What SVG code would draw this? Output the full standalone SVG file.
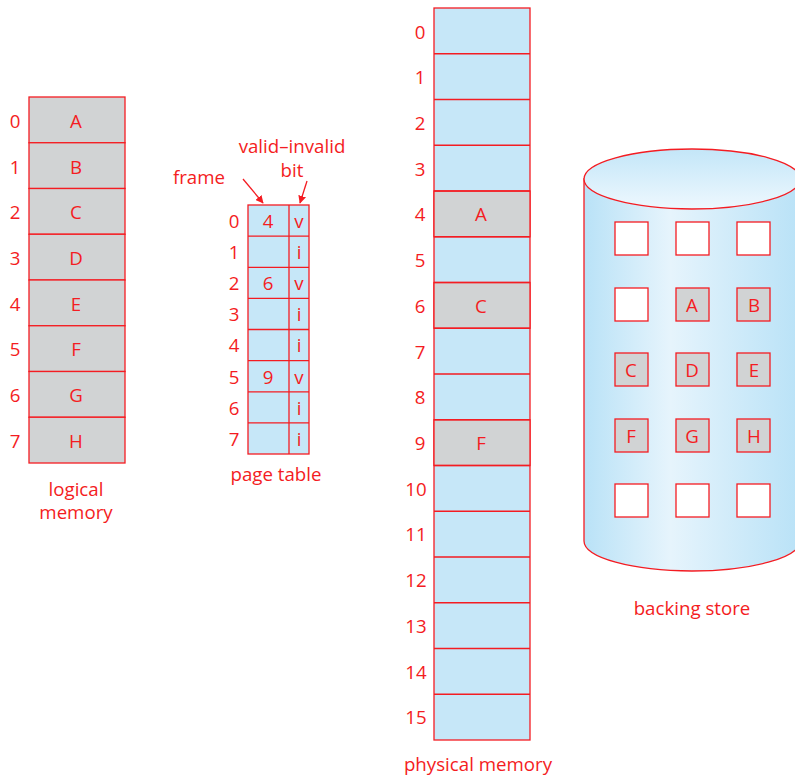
<svg xmlns="http://www.w3.org/2000/svg" width="795" height="775" viewBox="0 0 795 775">
<style>
text{font-family:"Open Sans","Noto Sans","Liberation Sans",sans-serif;font-size:18.7px;fill:#f41c22;text-anchor:middle;dominant-baseline:central}
.g{fill:#d1d3d4;stroke:#f41c22;stroke-width:1.3}
.b{fill:#c6e7f8;stroke:#f41c22;stroke-width:1.3}
.w{fill:#ffffff;stroke:#f41c22;stroke-width:1.3}
.ln{stroke:#f41c22;stroke-width:1.3;fill:none}
</style>
<defs>
<linearGradient id="side" x1="0" y1="0" x2="1" y2="0">
<stop offset="0" stop-color="#b9e2f7"/><stop offset="0.4" stop-color="#e6f4fc"/><stop offset="1" stop-color="#b9e2f7"/>
</linearGradient>
<linearGradient id="top" x1="0" y1="0" x2="0" y2="1">
<stop offset="0" stop-color="#c3e6f8"/><stop offset="1" stop-color="#eef8fe"/>
</linearGradient>
<marker id="ah" viewBox="0 0 10 10" refX="9" refY="5" markerWidth="8" markerHeight="8" orient="auto" markerUnits="userSpaceOnUse">
<path d="M0,0 L10,5 L0,10 z" fill="#f41c22"/>
</marker>
</defs>

<g id="logical-memory">
<rect class="g" x="29" y="97" width="96" height="45.75"/>
<rect class="g" x="29" y="142.75" width="96" height="45.75"/>
<rect class="g" x="29" y="188.5" width="96" height="45.75"/>
<rect class="g" x="29" y="234.25" width="96" height="45.75"/>
<rect class="g" x="29" y="280" width="96" height="45.75"/>
<rect class="g" x="29" y="325.75" width="96" height="45.75"/>
<rect class="g" x="29" y="371.5" width="96" height="45.75"/>
<rect class="g" x="29" y="417.25" width="96" height="45.75"/>
<text x="76" y="120">A</text><text x="76" y="166">B</text><text x="76" y="211">C</text><text x="76" y="257">D</text>
<text x="76" y="303">E</text><text x="76" y="348">F</text><text x="76" y="394">G</text><text x="76" y="440">H</text>
<text x="15" y="120">0</text><text x="15" y="166">1</text><text x="15" y="211">2</text><text x="15" y="257">3</text>
<text x="15" y="303">4</text><text x="15" y="348">5</text><text x="15" y="394">6</text><text x="15" y="440">7</text>
<text x="76" y="488"><tspan x="76" y="488">logical</tspan><tspan x="76" y="511">memory</tspan></text>
</g>

<g id="page-table">
<rect class="b" x="248" y="205" width="61" height="249"/>
<line class="ln" x1="289" y1="205" x2="289" y2="454"/>
<line class="ln" x1="248" y1="236.1" x2="309" y2="236.1"/>
<line class="ln" x1="248" y1="267.3" x2="309" y2="267.3"/>
<line class="ln" x1="248" y1="298.4" x2="309" y2="298.4"/>
<line class="ln" x1="248" y1="329.5" x2="309" y2="329.5"/>
<line class="ln" x1="248" y1="360.6" x2="309" y2="360.6"/>
<line class="ln" x1="248" y1="391.8" x2="309" y2="391.8"/>
<line class="ln" x1="248" y1="422.9" x2="309" y2="422.9"/>
<text x="268" y="220">4</text><text x="268" y="282">6</text><text x="268" y="376">9</text>
<text x="299" y="220">v</text><text x="299" y="251">i</text><text x="299" y="282">v</text><text x="299" y="313">i</text>
<text x="299" y="344">i</text><text x="299" y="376">v</text><text x="299" y="407">i</text><text x="299" y="438">i</text>
<text x="234" y="220">0</text><text x="234" y="251">1</text><text x="234" y="282">2</text><text x="234" y="313">3</text>
<text x="234" y="344">4</text><text x="234" y="376">5</text><text x="234" y="407">6</text><text x="234" y="438">7</text>
<text x="276" y="473">page table</text>
<text x="199" y="176">frame</text>
<text x="292" y="145"><tspan x="292" y="145">valid–invalid</tspan><tspan x="292" y="169">bit</tspan></text>
</g>

<g id="connectors">
<line class="ln" x1="243" y1="179" x2="263" y2="203" marker-end="url(#ah)"/>
<line class="ln" x1="307" y1="181" x2="300" y2="203" marker-end="url(#ah)"/>
</g>

<g id="physical-memory">
<rect class="b" x="434" y="8" width="96" height="732"/>
<rect class="g" x="434" y="191" width="96" height="45.75"/>
<rect class="g" x="434" y="282.5" width="96" height="45.75"/>
<rect class="g" x="434" y="419.75" width="96" height="45.75"/>
<path class="ln" d="M434,53.75H530M434,99.5H530M434,145.25H530M434,191H530M434,236.75H530M434,282.5H530M434,328.25H530M434,374H530M434,419.75H530M434,465.5H530M434,511.25H530M434,557H530M434,602.75H530M434,648.5H530M434,694.25H530"/>
<text x="481" y="213">A</text><text x="481" y="305">C</text><text x="481" y="442">F</text>
<text x="420" y="31">0</text><text x="420" y="76">1</text><text x="420" y="122">2</text><text x="420" y="168">3</text>
<text x="420" y="213">4</text><text x="420" y="259">5</text><text x="420" y="305">6</text><text x="420" y="351">7</text>
<text x="420" y="396">8</text><text x="420" y="442">9</text><text x="416" y="488">10</text><text x="416" y="533">11</text>
<text x="416" y="579">12</text><text x="416" y="625">13</text><text x="416" y="671">14</text><text x="416" y="716">15</text>
<text x="478" y="763">physical memory</text>
</g>

<g id="backing-store">
<path d="M584,179 V541 A108,30 0 0 0 800,541 V179 Z" fill="url(#side)" stroke="#f41c22" stroke-width="1.3"/>
<ellipse cx="692" cy="179" rx="108" ry="30" fill="url(#top)" stroke="#f41c22" stroke-width="1.3"/>
<rect class="w" x="615" y="222" width="33" height="33"/><rect class="w" x="676" y="222" width="33" height="33"/><rect class="w" x="737" y="222" width="33" height="33"/>
<rect class="w" x="615" y="288" width="33" height="33"/><rect class="g" x="676" y="288" width="33" height="33"/><rect class="g" x="737" y="288" width="33" height="33"/>
<rect class="g" x="615" y="353" width="33" height="33"/><rect class="g" x="676" y="353" width="33" height="33"/><rect class="g" x="737" y="353" width="33" height="33"/>
<rect class="g" x="615" y="419" width="33" height="33"/><rect class="g" x="676" y="419" width="33" height="33"/><rect class="g" x="737" y="419" width="33" height="33"/>
<rect class="w" x="615" y="484" width="33" height="33"/><rect class="w" x="676" y="484" width="33" height="33"/><rect class="w" x="737" y="484" width="33" height="33"/>
<text x="692" y="304">A</text><text x="754" y="304">B</text>
<text x="631" y="369">C</text><text x="692" y="369">D</text><text x="754" y="369">E</text>
<text x="631" y="435">F</text><text x="692" y="435">G</text><text x="754" y="435">H</text>
<text x="692" y="607">backing store</text>
</g>
</svg>
